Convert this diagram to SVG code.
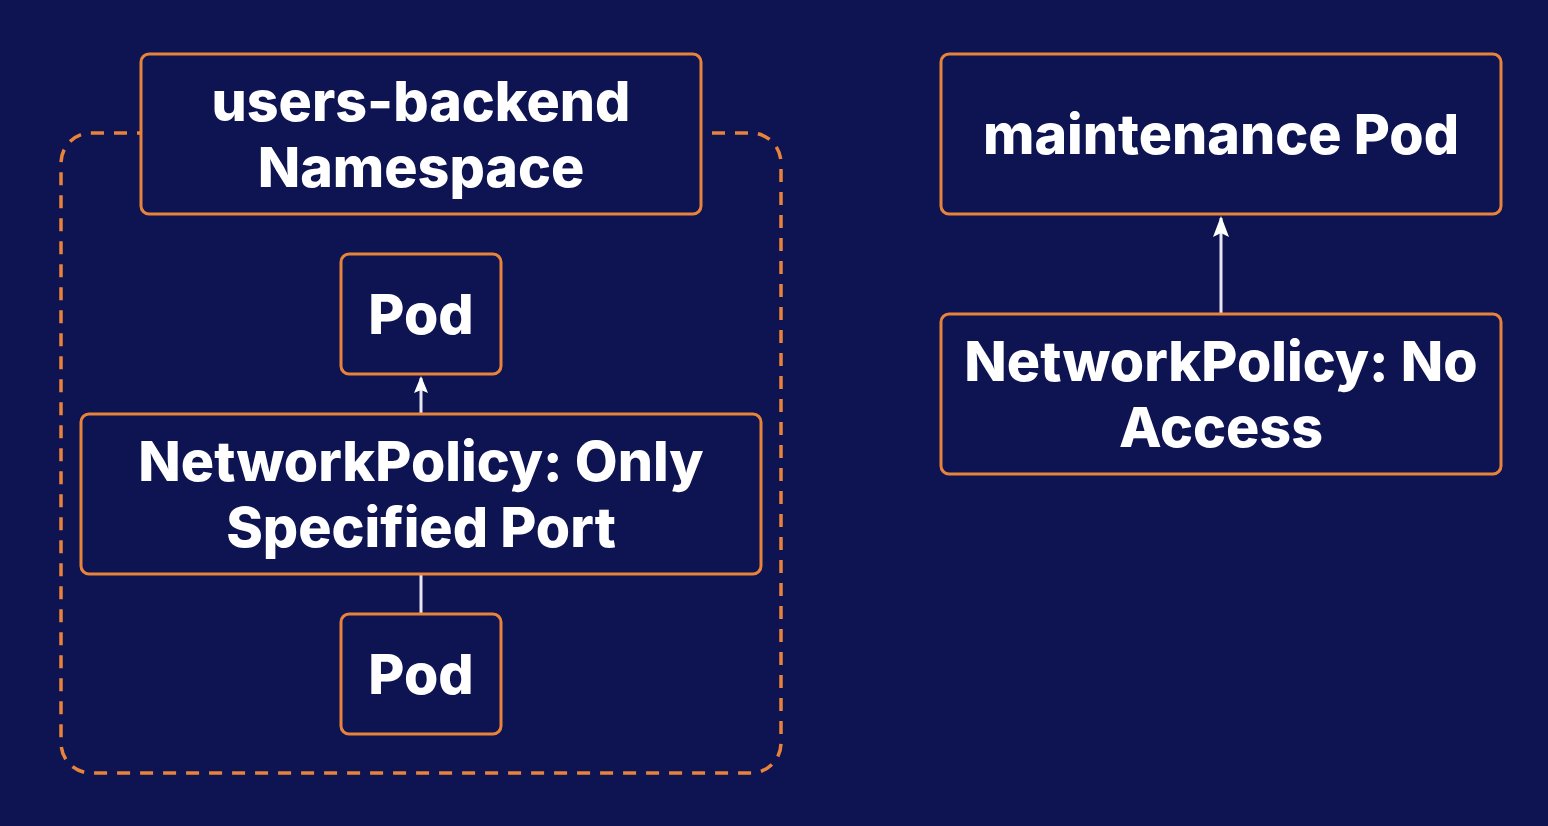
<svg xmlns="http://www.w3.org/2000/svg" width="1548" height="826" viewBox="0 0 1548 826">
<defs>
<style>
.box{fill:#0e1352;stroke:#e8833a;stroke-width:3}
.t{font-family:Inter,"Noto Sans",sans-serif;font-weight:800;font-size:55.5px;fill:#ffffff;text-anchor:middle}
.c{stroke:#e6e6f0;stroke-width:3;fill:none}
</style>
</defs>
<rect width="1548" height="826" fill="#0e1352"/>
<g id="container">
<rect x="61" y="133" width="720" height="640" rx="30" fill="none" stroke="#e8833a" stroke-width="3.5" stroke-dasharray="13 10"/>
</g>
<g id="connectors">
<line class="c" x1="421" y1="414" x2="421" y2="378"/>
<path d="M421,376 L428,393 L421,390 L414,393 Z" fill="#ffffff"/>
<line class="c" x1="421" y1="614" x2="421" y2="574"/>
<line class="c" x1="1221" y1="314" x2="1221" y2="218"/>
<path d="M1221,216 L1229,237 L1221,233 L1213,237 Z" fill="#ffffff"/>
</g>
<g id="ns">
<rect class="box" x="141" y="54" width="560" height="160" rx="8"/>
<text class="t" x="421" y="121">users-backend</text>
<text class="t" x="421" y="187">Namespace</text>
</g>
<g id="pod1">
<rect class="box" x="341" y="254" width="160" height="120" rx="8"/>
<text class="t" x="421" y="334">Pod</text>
</g>
<g id="np1">
<rect class="box" x="81" y="414" width="680" height="160" rx="8"/>
<text class="t" x="421" y="481">NetworkPolicy: Only</text>
<text class="t" x="421" y="547">Specified Port</text>
</g>
<g id="pod2">
<rect class="box" x="341" y="614" width="160" height="120" rx="8"/>
<text class="t" x="421" y="694">Pod</text>
</g>
<g id="maint">
<rect class="box" x="941" y="54" width="560" height="160" rx="8"/>
<text class="t" x="1221" y="154">maintenance Pod</text>
</g>
<g id="np2">
<rect class="box" x="941" y="314" width="560" height="160" rx="8"/>
<text class="t" x="1221" y="381">NetworkPolicy: No</text>
<text class="t" x="1221" y="447">Access</text>
</g>
</svg>
